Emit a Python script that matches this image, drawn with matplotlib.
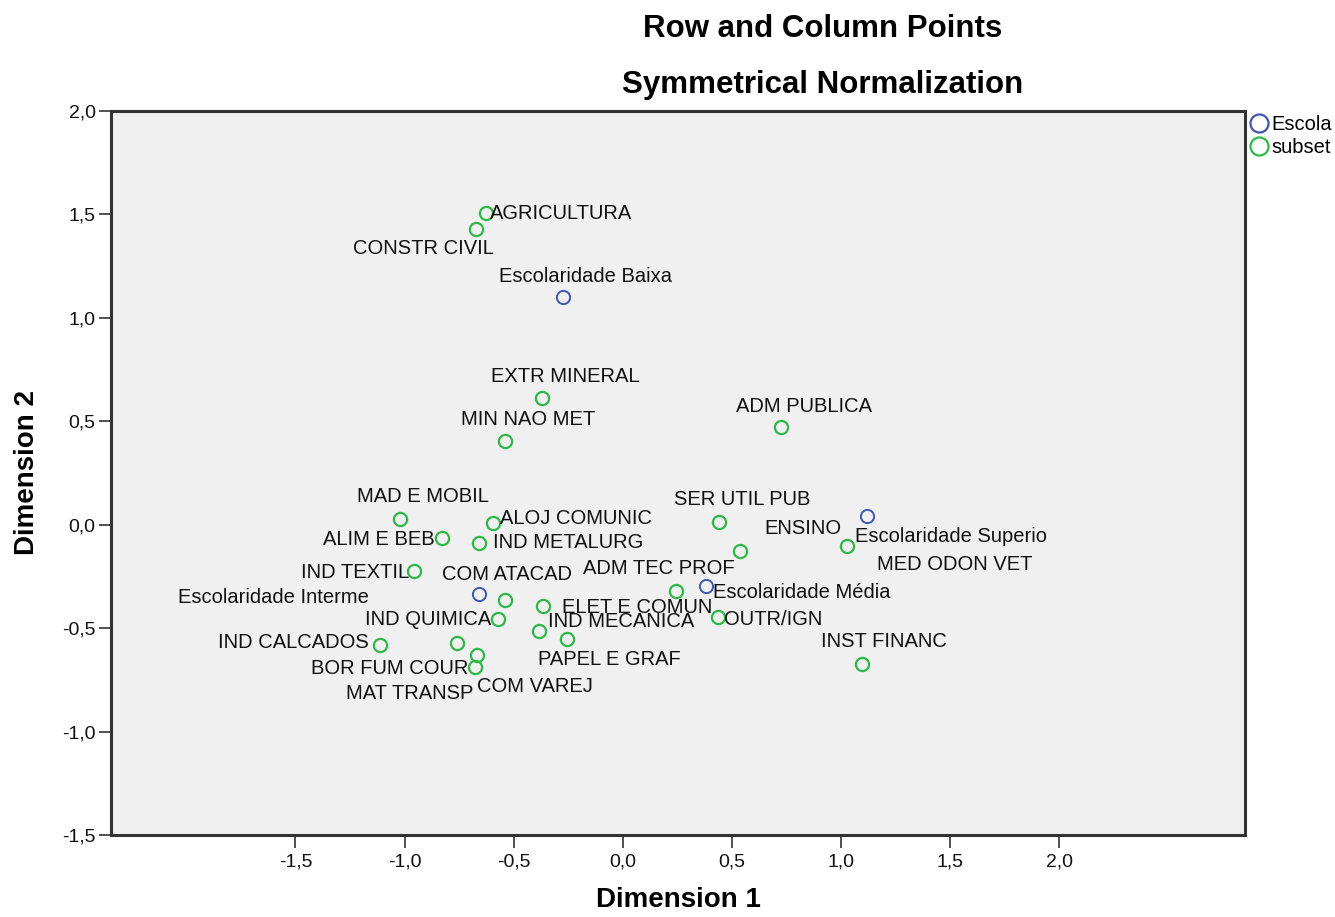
import matplotlib
matplotlib.use("Agg")
import matplotlib.pyplot as plt
from matplotlib.lines import Line2D
from matplotlib.ticker import FuncFormatter

plt.rcParams['font.family'] = ['Liberation Sans', 'DejaVu Sans']

# row points (Escolaridade)
row_labels = ['Escolaridade Baixa', 'Escolaridade Interme', 'Escolaridade Média',
              'Escolaridade Superio']
row_dim1 = [-0.275, -0.660, 0.380, 1.118]
row_dim2 = [1.100, -0.335, -0.297, 0.042]

# column points (subsetor)
col_labels = ['AGRICULTURA', 'CONSTR CIVIL', 'EXTR MINERAL', 'MIN NAO MET', 'ADM PUBLICA',
              'MAD E MOBIL', 'ALOJ COMUNIC', 'ALIM E BEB', 'IND METALURG', 'SER UTIL PUB',
              'ENSINO', 'MED ODON VET', 'ADM TEC PROF', 'IND TEXTIL', 'COM ATACAD',
              'ELET E COMUN', 'IND QUIMICA', 'IND MECANICA', 'PAPEL E GRAF', 'OUTR/IGN',
              'IND CALCADOS', 'BOR FUM COUR', 'COM VAREJ', 'MAT TRANSP', 'INST FINANC']
col_dim1 = [-0.628, -0.673, -0.371, -0.541, 0.724,
            -1.022, -0.596, -0.829, -0.660, 0.440,
            0.536, 1.026, 0.243, -0.957, -0.541,
            -0.366, -0.573, -0.385, -0.257, 0.435,
            -1.113, -0.760, -0.669, -0.678, 1.095]
col_dim2 = [1.506, 1.428, 0.612, 0.404, 0.472,
            0.027, 0.008, -0.065, -0.089, 0.013,
            -0.128, -0.103, -0.321, -0.224, -0.365,
            -0.394, -0.457, -0.515, -0.553, -0.447,
            -0.582, -0.573, -0.631, -0.689, -0.674]

ticks = [-1.5, -1.0, -0.5, 0.0, 0.5, 1.0, 1.5, 2.0]

# label placement (pixel offsets from the point, image-down positive)
row_off = [(23, -21, 'center'), (-110, 3, 'right'), (7, 6, 'left'), (-12, 20, 'left')]
col_off = [(4, 0, 'left'), (18, 19, 'right'), (23, -22, 'center'), (23, -22, 'center'),
           (23, -21, 'center'), (23, -23, 'center'), (7, -5, 'left'), (-7, 1, 'right'),
           (14, -1, 'left'), (23, -23, 'center'), (63, -23, 'center'), (30, 18, 'left'),
           (-17, -23, 'center'), (-5, 1, 'right'), (2, -26, 'center'), (19, 1, 'left'),
           (-7, 0, 'right'), (9, -10, 'left'), (43, 20, 'center'), (6, 2, 'left'),
           (-11, -3, 'right'), (11, 25, 'right'), (0, 31, 'left'), (-1, 26, 'right'),
           (22, -23, 'center')]

blue = '#3e58ac'
green = '#2eb848'

fig = plt.figure(figsize=(13.35, 9.17), dpi=100)
ax = fig.add_axes([0.0831, 0.0894, 0.8495, 0.7896])
ax.set_facecolor('#f0f0f0')

ax.plot(row_dim1, row_dim2, 'o', ms=9.5, mfc='none', mec=blue, mew=1.4, zorder=3)
ax.plot(col_dim1, col_dim2, 'o', ms=9.5, mfc='none', mec=green, mew=1.6, zorder=3)

for lab, x, y, (dx, dy, ha) in zip(row_labels, row_dim1, row_dim2, row_off):
    ax.annotate(lab, (x, y), xytext=(dx, -dy), textcoords='offset pixels',
                ha=ha, va='center', fontsize=14.5, color='#111111')
for lab, x, y, (dx, dy, ha) in zip(col_labels, col_dim1, col_dim2, col_off):
    ax.annotate(lab, (x, y), xytext=(dx, -dy), textcoords='offset pixels',
                ha=ha, va='center', fontsize=14.5, color='#111111')

ax.set_xlim(-2.345, 2.85)
ax.set_ylim(-1.5, 2.0)
ax.set_xticks(ticks)
ax.set_yticks(ticks)
fmt = FuncFormatter(lambda v, p: ('%.1f' % v).replace('.', ','))
ax.xaxis.set_major_formatter(fmt)
ax.yaxis.set_major_formatter(fmt)
ax.tick_params(direction='out', length=9, width=1.2, color='#333333',
               labelsize=14, labelcolor='#111111', pad=2)
ax.tick_params(axis='x', pad=4)
for s in ax.spines.values():
    s.set_linewidth(2.2)
    s.set_color('#333333')

ax.set_xlabel('Dimension 1', fontsize=20, fontweight='bold', labelpad=12)
ax.set_ylabel('Dimension 2', fontsize=20, fontweight='bold', labelpad=16)

fig.text(0.616, 1 - 29 / 917, 'Row and Column Points', ha='center', va='center',
         fontsize=22.5, fontweight='bold')
fig.text(0.616, 1 - 85 / 917, 'Symmetrical Normalization', ha='center', va='center',
         fontsize=22.5, fontweight='bold')

handles = [Line2D([], [], ls='none', marker='o', ms=13, mfc='none', mec=blue, mew=1.6),
           Line2D([], [], ls='none', marker='o', ms=13, mfc='none', mec=green, mew=1.6)]
ax.legend(handles, ['Escola', 'subset'], loc='upper left', bbox_to_anchor=(0.998, 1.0),
          frameon=False, fontsize=14.5, handletextpad=0.0, handlelength=1.2,
          labelspacing=0.2, borderaxespad=0.0, borderpad=0.2)

fig.savefig('out.png', dpi=100)
